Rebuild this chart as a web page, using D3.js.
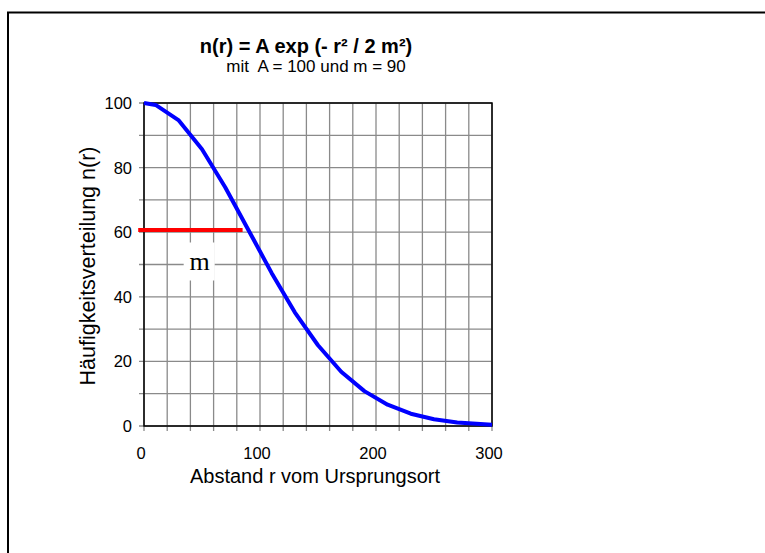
<!DOCTYPE html>
<html>
<head>
<meta charset="utf-8">
<script src="https://cdn.jsdelivr.net/npm/d3@7"></script>
<style>
  body { margin: 0; background: #fff; }
  text { font-family: Arial, "Liberation Sans", sans-serif; fill: #000; }
  .grid line { stroke: #8a8a8a; stroke-width: 1.3; }
  .frame { fill: none; stroke: #000; stroke-width: 1.5; }
  .tick-label { font-size: 16.5px; }
</style>
</head>
<body>
<div id="chart"></div>
<script>
// Gaussian distribution n(r) = A exp(-r^2 / 2m^2), A = 100, m = 90

let width = 765;
let height = 553;

// Data
let rValues = [0, 10, 30, 50, 70, 90, 110, 130, 150, 170, 190, 210, 230, 250, 270, 290, 300];
let nValues = [100, 99.4, 94.6, 85.7, 73.9, 60.7, 47.4, 35.2, 25.0, 16.8, 10.8, 6.6, 3.8, 2.1, 1.1, 0.6, 0.4];

// Red marker for m (at the level n(m))
let mLineR = [-5, 85];
let mLineN = [60.7, 60.7];
let mLabel = { r: 48, n: 50, text: "m" };

// Ticks and grid
let xTickValues = [0, 100, 200, 300];
let yTickValues = [0, 20, 40, 60, 80, 100];
let xGridValues = d3.range(0, 301, 20);
let yGridValues = d3.range(0, 101, 10);

let titleText = "n(r) = A exp (- r² / 2 m²)";
let subtitleText = "mit  A = 100 und m = 90";
let xLabelText = "Abstand r vom Ursprungsort";
let yLabelText = "Häufigkeitsverteilung n(r)";

let curveData = rValues.map(function (r, i) {
    return { r: r, n: nValues[i] };
});
let mLineData = mLineR.map(function (r, i) {
    return { r: r, n: mLineN[i] };
});

// Scales
let xScale = d3.scaleLinear()
    .domain([0, 300])
    .range([144, 492]);

let yScale = d3.scaleLinear()
    .domain([0, 100])
    .range([426, 103]);

let svg = d3.select("#chart")
    .append("svg")
    .attr("width", width)
    .attr("height", height);

// Outer border (runs off the right and bottom)
svg.append("rect")
    .attr("x", 8)
    .attr("y", 12.5)
    .attr("width", 800)
    .attr("height", 600)
    .attr("fill", "none")
    .attr("stroke", "#000")
    .attr("stroke-width", 2);

// Grid lines, which also stick out as ticks
let grid = svg.append("g").attr("class", "grid");

grid.selectAll(".vgrid")
    .data(xGridValues)
    .enter()
    .append("line")
    .attr("x1", function (d) { return xScale(d); })
    .attr("x2", function (d) { return xScale(d); })
    .attr("y1", yScale(100))
    .attr("y2", yScale(0) + 5);

grid.selectAll(".hgrid")
    .data(yGridValues)
    .enter()
    .append("line")
    .attr("x1", xScale(0) - 5)
    .attr("x2", xScale(300))
    .attr("y1", function (d) { return yScale(d); })
    .attr("y2", function (d) { return yScale(d); });

// Plot frame
svg.append("rect")
    .attr("class", "frame")
    .attr("x", xScale(0))
    .attr("y", yScale(100))
    .attr("width", xScale(300) - xScale(0))
    .attr("height", yScale(0) - yScale(100));

// Tick labels
svg.selectAll(".xlabel")
    .data(xTickValues)
    .enter()
    .append("text")
    .attr("class", "tick-label")
    .attr("x", function (d) { return xScale(d) - 3; })
    .attr("y", 459)
    .attr("text-anchor", "middle")
    .text(function (d) { return d; });

svg.selectAll(".ylabel")
    .data(yTickValues)
    .enter()
    .append("text")
    .attr("class", "tick-label")
    .attr("x", 132)
    .attr("y", function (d) { return yScale(d) + 6; })
    .attr("text-anchor", "end")
    .text(function (d) { return d; });

// Label box for m (white background cuts the grid)
svg.append("rect")
    .attr("x", xScale(mLabel.r) - 16)
    .attr("y", yScale(mLabel.n) - 22)
    .attr("width", 31)
    .attr("height", 38)
    .attr("fill", "#fff");

svg.append("text")
    .attr("x", xScale(mLabel.r))
    .attr("y", yScale(mLabel.n) + 5)
    .attr("text-anchor", "middle")
    .style("font-family", "'Liberation Serif', 'Times New Roman', serif")
    .style("font-size", "26px")
    .text(mLabel.text);

// Lines
let line = d3.line()
    .x(function (d) { return xScale(d.r); })
    .y(function (d) { return yScale(d.n); });

svg.append("path")
    .datum(mLineData)
    .attr("d", line)
    .attr("fill", "none")
    .attr("stroke", "#ff0000")
    .attr("stroke-width", 4);

svg.append("path")
    .datum(curveData)
    .attr("d", line)
    .attr("fill", "none")
    .attr("stroke", "#0000ff")
    .attr("stroke-width", 4)
    .attr("stroke-linejoin", "round");

// Titles
svg.append("text")
    .attr("x", 306)
    .attr("y", 53)
    .attr("text-anchor", "middle")
    .style("font-size", "20px")
    .style("font-weight", "bold")
    .text(titleText);

svg.append("text")
    .attr("x", 316)
    .attr("y", 72)
    .attr("text-anchor", "middle")
    .style("font-size", "17px")
    .attr("xml:space", "preserve")
    .text(subtitleText);

// Axis titles
svg.append("text")
    .attr("x", 315)
    .attr("y", 483)
    .attr("text-anchor", "middle")
    .style("font-size", "20px")
    .text(xLabelText);

svg.append("text")
    .attr("transform", "translate(95, 266) rotate(-90)")
    .attr("text-anchor", "middle")
    .style("font-size", "21.5px")
    .text(yLabelText);
</script>
</body>
</html>
